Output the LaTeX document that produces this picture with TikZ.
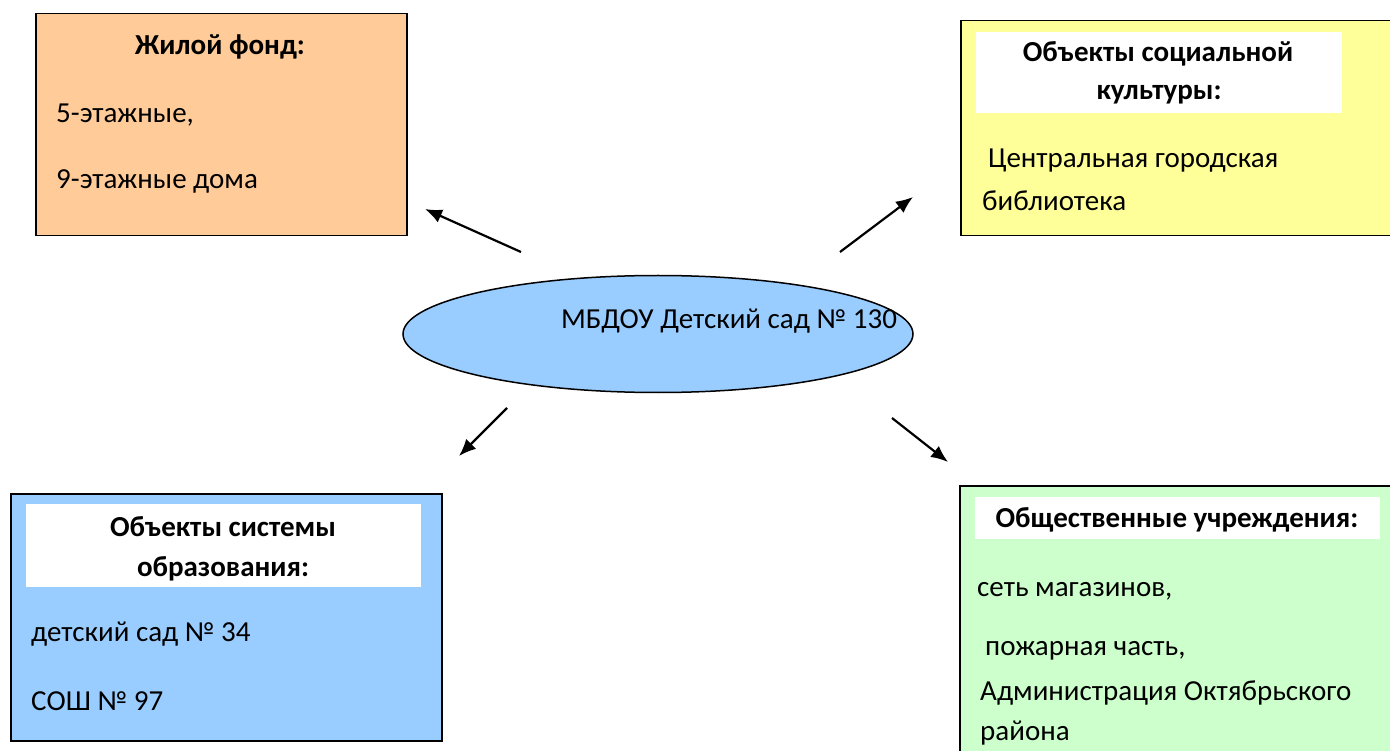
\documentclass[tikz,border=0pt]{standalone}
\usepackage{fontspec}
\setmainfont{Carlito}
\usetikzlibrary{arrows.meta,shapes.geometric}
\definecolor{cOrange}{HTML}{FFCC99}
\definecolor{cYellow}{HTML}{FFFF99}
\definecolor{cBlue}{HTML}{99CCFF}
\definecolor{cGreen}{HTML}{CCFFCC}
\tikzset{
  boxst/.style={draw=black,line width=1.5pt,anchor=north west,inner sep=0pt},
  whitest/.style={fill=white,draw=none,anchor=north west,inner sep=0pt},
  ttl/.style={font=\fontsize{29}{35}\selectfont\bfseries,inner sep=0pt,align=center},
  txt/.style={font=\fontsize{29}{35}\selectfont,inner sep=0pt,anchor=west},
  arr/.style={line width=2.2pt,-{Latex[length=17pt,width=14pt]}}
}
\begin{document}
\begin{tikzpicture}[x=1pt,y=-1pt]
\clip (0,0) rectangle (1390,751);
\fill[white] (0,0) rectangle (1390,751);
% boxes
\node[boxst,fill=cOrange,minimum width=371pt,minimum height=222pt] (orange) at (35,13) {};
\node[boxst,fill=cYellow,minimum width=440pt,minimum height=215pt] (yellow) at (960,20) {};
\node[boxst,fill=cBlue,minimum width=431pt,minimum height=247pt] (blue) at (10,493) {};
\node[boxst,fill=cGreen,minimum width=440pt,minimum height=280pt] (green) at (959,485) {};
% white title panels
\node[whitest,minimum width=366pt,minimum height=81pt] (ywhite) at (976,32) {};
\node[whitest,minimum width=395pt,minimum height=83pt] (bwhite) at (26,504) {};
\node[whitest,minimum width=405pt,minimum height=42pt] (gwhite) at (975,497) {};
% ellipse
\node[ellipse,draw=black,line width=1.5pt,fill=cBlue,minimum width=510pt,minimum height=117pt,inner sep=0pt] (center) at (658,334) {};
\node[font=\fontsize{29}{35}\selectfont,inner sep=0pt] (ctext) at (729,321) {МБДОУ Детский сад № 130};
% orange texts
\node[ttl] (otitle) at (220,47) {Жилой фонд:};
\node[txt] (o1) at (56,115) {5-этажные,};
\node[txt] (o2) at (56,181) {9-этажные дома};
% yellow texts
\node[ttl] (yt1) at (1158,54) {Объекты социальной};
\node[ttl] (yt2) at (1159,95) {культуры:};
\node[txt] (y1) at (988,161) {Центральная городская};
\node[txt] (y2) at (982,201) {библиотека};
% blue texts
\node[ttl] (bt1) at (223,527) {Объекты системы};
\node[ttl] (bt2) at (223,569) {образования:};
\node[txt] (b1) at (31,634) {детский сад № 34};
\node[txt] (b2) at (31,701) {СОШ № 97};
% green texts
\node[ttl] (gt) at (1177,520) {Общественные учреждения:};
\node[txt] (g1) at (977,591) {сеть магазинов,};
\node[txt] (g2) at (985,651) {пожарная часть,};
\node[txt] (g3) at (980,693) {Администрация Октябрьского};
\node[txt] (g4) at (980,733) {района};
% arrow endpoints
\coordinate (a1s) at (521,252); \coordinate (a1e) at (425,209);
\coordinate (a2s) at (840,252); \coordinate (a2e) at (913,197);
\coordinate (a3s) at (507,408); \coordinate (a3e) at (459,456);
\coordinate (a4s) at (892,418); \coordinate (a4e) at (948,462);
\draw[arr] (a1s) -- (a1e);
\draw[arr] (a2s) -- (a2e);
\draw[arr] (a3s) -- (a3e);
\draw[arr] (a4s) -- (a4e);
\end{tikzpicture}
\end{document}
